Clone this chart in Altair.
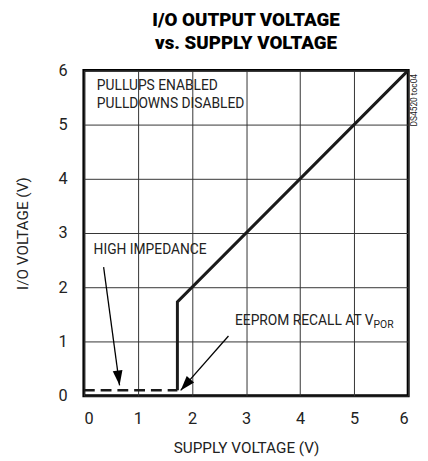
import math
import altair as alt
import pandas as pd

# ---- data ----
curve_x = [1.73, 1.73, 6.0]
curve_y = [0.10, 1.73, 6.0]
hiz_x = [0.0, 1.73]
hiz_y = [0.10, 0.10]

arrow_name = ["hiz", "eeprom"]
arrow_x0 = [0.365, 2.675]
arrow_y0 = [2.37, 1.10]
arrow_x1 = [0.66, 1.79]
arrow_y1 = [0.19, 0.096]

label_text = ["PULLUPS ENABLED", "PULLDOWNS DISABLED", "HIGH IMPEDANCE"]
label_x = [0.24, 0.24, 0.18]
label_y = [5.71, 5.38, 2.68]

eeprom_text = "EEPROM RECALL AT V"
eeprom_sub = "POR"
eeprom_x = 5.36
eeprom_y = 1.37

note_text = "DS4520 toc04"
note_x = 6.1
note_y = 5.45

ticks = [0, 1, 2, 3, 4, 5, 6]

W, H = 329, 330
FONT = "Roboto, Liberation Sans, sans-serif"

xs = alt.Scale(domain=[0, 6], nice=False, zero=False)
ys = alt.Scale(domain=[0, 6], nice=False, zero=False)

curve_df = pd.DataFrame({"x": curve_x, "y": curve_y, "i": range(len(curve_x))})
hiz_df = pd.DataFrame({"x": hiz_x, "y": hiz_y})

rows = []
heads = []
for n, a, b, c, d in zip(arrow_name, arrow_x0, arrow_y0, arrow_x1, arrow_y1):
    rows.append({"name": n, "x": a, "y": b, "i": 0})
    rows.append({"name": n, "x": c, "y": d, "i": 1})
    dxp = (c - a) * W / 6.0
    dyp = -(d - b) * H / 6.0
    ang = math.degrees(math.atan2(dxp, -dyp)) % 360
    heads.append({"name": n, "x": c, "y": d, "angle": ang})
arrow_df = pd.DataFrame(rows)
head_df = pd.DataFrame(heads)

lab_df = pd.DataFrame({"t": label_text, "x": label_x, "y": label_y})

X = lambda: alt.X("x:Q", scale=xs, axis=alt.Axis(values=ticks, format="d", title="SUPPLY VOLTAGE (V)"))
Y = lambda: alt.Y("y:Q", scale=ys, axis=alt.Axis(values=ticks, format="d", title="I/O VOLTAGE (V)"))

grid = alt.Chart(pd.DataFrame({"x": [0.0], "y": [0.0]})).mark_point(opacity=0).encode(x=X(), y=Y())

curve = alt.Chart(curve_df).mark_line(color="#1a1a1a", strokeWidth=3, strokeJoin="miter").encode(
    x="x:Q", y="y:Q", order="i:Q")
hiz = alt.Chart(hiz_df).mark_line(color="#1a1a1a", strokeWidth=2.5, strokeDash=[11, 6]).encode(
    x="x:Q", y="y:Q")

arrows = alt.Chart(arrow_df).mark_line(color="black", strokeWidth=1.3).encode(
    x="x:Q", y="y:Q", detail="name:N", order="i:Q")
heads_m = alt.Chart(head_df).mark_point(
    shape="M0,0L-0.33,1L0.33,1Z", filled=True, color="black", opacity=1, size=900, strokeWidth=0
).encode(x="x:Q", y="y:Q", angle=alt.Angle("angle:Q", scale=None))

labels = alt.Chart(lab_df).mark_text(align="left", baseline="middle", font=FONT, fontSize=14,
                                     color="#222").encode(x="x:Q", y="y:Q", text="t:N")
eeprom = alt.Chart(pd.DataFrame({"x": [eeprom_x], "y": [eeprom_y], "t": [eeprom_text]})).mark_text(
    align="right", baseline="middle", font=FONT, fontSize=14, color="#222").encode(
    x="x:Q", y="y:Q", text="t:N")
eeprom_s = alt.Chart(pd.DataFrame({"x": [eeprom_x], "y": [eeprom_y], "t": [eeprom_sub]})).mark_text(
    align="left", baseline="middle", font=FONT, fontSize=10.5, dy=4, color="#222").encode(
    x="x:Q", y="y:Q", text="t:N")
note = alt.Chart(pd.DataFrame({"x": [note_x], "y": [note_y], "t": [note_text]})).mark_text(
    align="center", baseline="middle", font=FONT, fontSize=8.5, angle=270, color="#222").encode(
    x="x:Q", y="y:Q", text="t:N")

chart = alt.layer(grid, hiz, curve, arrows, heads_m, labels, eeprom, eeprom_s, note).properties(
    width=W, height=H,
    autosize=alt.AutoSizeParams(type="none"),
    padding={"left": 77, "top": 60, "right": 12, "bottom": 63},
    title=alt.TitleParams(["I/O OUTPUT VOLTAGE", "vs. SUPPLY VOLTAGE"], font=FONT, fontSize=19,
                          fontWeight=900, color="black", anchor="middle", lineHeight=23,
                          offset=-9, baseline="bottom"),
).configure_view(stroke="black", strokeWidth=3).configure_axis(
    grid=True, gridColor="#333", gridWidth=1, gridOpacity=1, domain=False, ticks=False,
    labelFont=FONT, labelFontSize=16.5, labelColor="#222", titleFont=FONT, titleFontSize=15.5,
    titleFontWeight="normal", titleColor="#222",
).configure_axisX(labelPadding=15, titlePadding=14).configure_axisY(labelPadding=17, titlePadding=28)

chart.save("out.html", embed_options={"renderer": "svg", "actions": False})
